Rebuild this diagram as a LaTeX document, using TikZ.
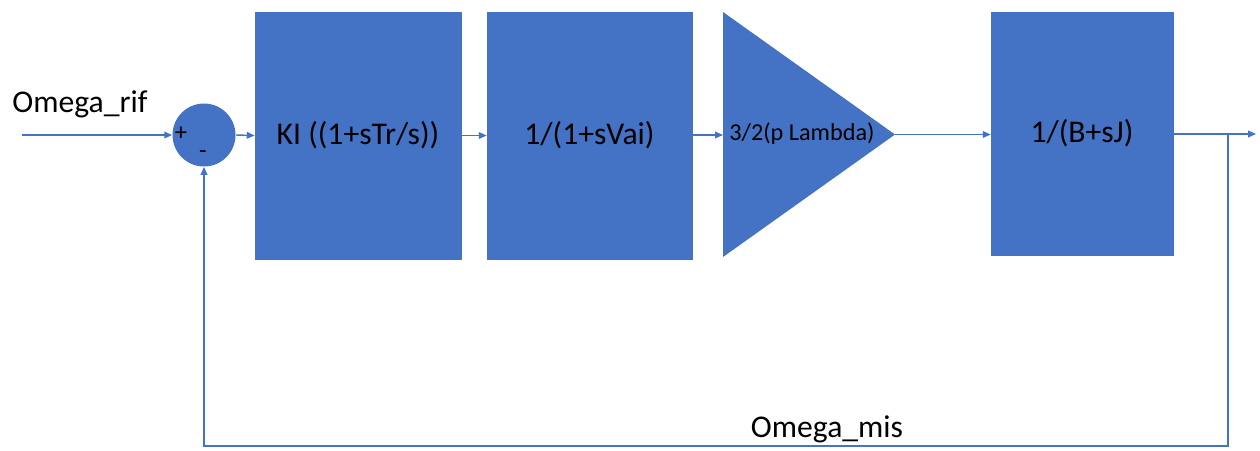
\documentclass[tikz,border=0pt]{standalone}
\usepackage{fontspec}
\setmainfont{Carlito}
\usetikzlibrary{arrows.meta}
\definecolor{officeblue}{HTML}{4472C4}
\tikzset{
  block/.style={fill=officeblue, draw=officeblue, inner sep=0pt, font=\fontsize{18}{21}\selectfont},
  label/.style={inner sep=0pt, font=\fontsize{18}{21}\selectfont},
  sign/.style={inner sep=0pt, font=\fontsize{14}{16}\selectfont},
  wire/.style={draw=officeblue, line width=0.8pt},
  sig/.style={wire, -{Triangle[length=4.5pt,width=3.8pt]}},
}
\begin{document}
\begin{tikzpicture}[x=0.02cm,y=-0.02cm]
    \useasboundingbox (0,0) rectangle (1260,450);
    % summing junction
    \node[circle, fill=officeblue, minimum size=1.26cm, inner sep=0pt] (sum) at (204,135) {};
    \node[sign] (plus) at (181,134) {+};
    \node[sign] (minus) at (203,155) {-};
    % blocks
    \node[block, minimum width=4.12cm, minimum height=4.94cm] (ki) at (358,135.5) {KI ((1+sTr/s))};
    \node[block, minimum width=4.1cm, minimum height=4.94cm] (vai) at (589.5,135.5) {1/(1+sVai)};
    \fill[officeblue] (723,12) coordinate (gaintop) -- (895,134.5) coordinate (gainout)
        -- (723,257) coordinate (gainbot) -- cycle;
    \coordinate (gainin) at (723,135);
    \node[inner sep=0pt, font=\fontsize{13.8}{16}\selectfont] (gain) at (802,134) {3/2(p Lambda)};
    \node[block, minimum width=3.64cm, minimum height=4.86cm] (mech) at (1082,133.5) {1/(B+sJ)};
    % signals
    \coordinate (in) at (22,135);
    \node[label] (rif) at (80,104) {Omega\_rif};
    \draw[sig] (in) -- (sum.west);
    \draw[sig] (sum.east) -- (ki.west);
    \draw[sig] (ki.east) -- (vai.west);
    \draw[sig] (vai.east |- gainin) -- (gainin);
    \draw[sig] (gainout) -- (mech.west |- gainout);
    \coordinate (out) at (1256,134);
    \coordinate (branch) at (1228,134);
    \coordinate (fbcorner) at (1228,446);
    \draw[sig] (mech.east |- out) -- (out);
    \draw[sig] (branch) -- (fbcorner) -| (sum.south);
    \node[label] (mis) at (827,429) {Omega\_mis};
\end{tikzpicture}
\end{document}
